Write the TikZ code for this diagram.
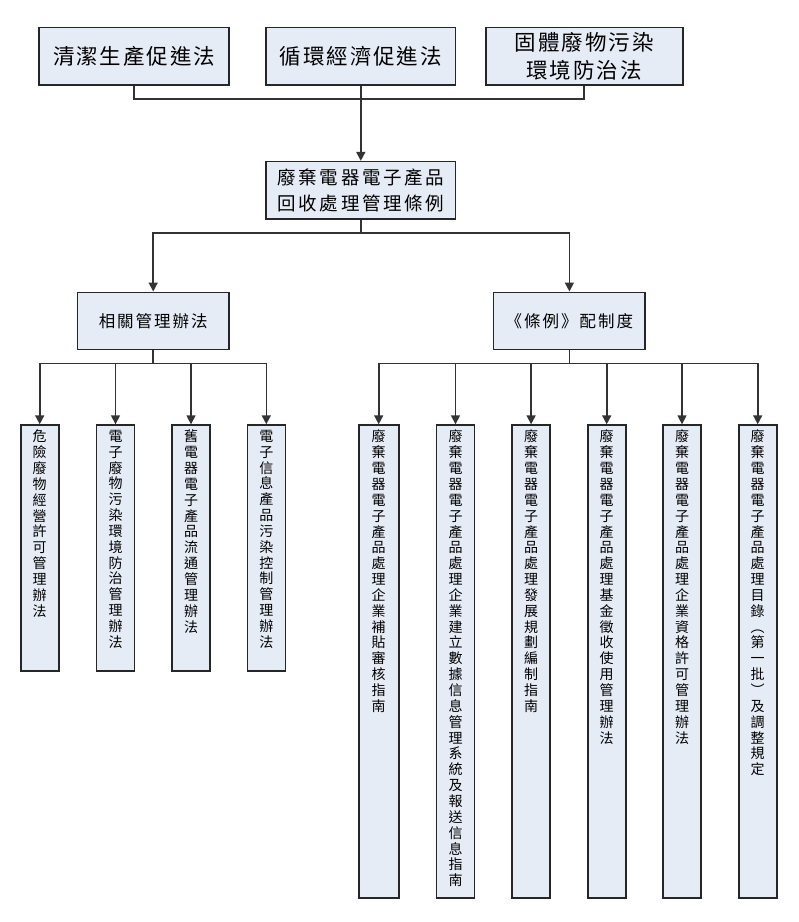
\documentclass[tikz,border=0pt]{standalone}
\usepackage{fontspec}
\usetikzlibrary{arrows.meta}
\setmainfont{Noto Sans CJK TC}
\definecolor{boxblue}{RGB}{230,236,246}

\makeatletter
\newcommand{\shuwen}[2]{\parbox[c][#1][t]{20pt}{\centering\fontsize{14pt}{15.85pt}\selectfont\vspace*{5pt}\@tfor\shuzi:=#2\do{\shuzi\par}}}
\makeatother

\tikzset{
    box/.style={draw=black!85, line width=1.6pt, fill=boxblue, inner sep=0pt, align=center},
    topbox/.style={box, minimum height=57.3pt, font=\fontsize{21.5pt}{28.4pt}\selectfont\addfontfeatures{LetterSpace=9}},
    regbox/.style={box, minimum height=57.3pt, font=\fontsize{18.5pt}{25.7pt}\selectfont\addfontfeatures{LetterSpace=14}},
    midbox/.style={box, minimum height=57pt, minimum width=151.5pt, font=\fontsize{16.5pt}{20pt}\selectfont\addfontfeatures{LetterSpace=12}},
    leaf/.style={box, anchor=north, minimum width=38pt},
    link/.style={draw=black!80, line width=1.6pt},
    arr/.style={link, -{Triangle[width=9pt,length=9pt]}}
}

\begin{document}
\begin{tikzpicture}[x=1pt, y=-1pt]
        \useasboundingbox (0,0) rectangle (799,922);

        \node[topbox, minimum width=189.7pt] (law1) at (134.1,56.3) {清潔生產促進法};
        \node[topbox, minimum width=189.7pt] (law2) at (360.8,56.3) {循環經濟促進法};
        \node[topbox, minimum width=197pt] (law3) at (584.2,56.3) {固體廢物污染\\環境防治法};

        \node[regbox, minimum width=189.7pt] (reg) at (360.8,190.3) {廢棄電器電子產品\\回收處理管理條例};

        \node[midbox] (rel) at (153.2,320.8) {相關管理辦法};
        \node[midbox] (sys) at (569.4,320.8) {《條例》配制度};

        \node[leaf] (r1) at (39.7,424.3) {\shuwen{246pt}{危險廢物經營許可管理辦法}};
        \node[leaf] (r2) at (115.5,424.3) {\shuwen{246pt}{電子廢物污染環境防治管理辦法}};
        \node[leaf] (r3) at (191,424.3) {\shuwen{246pt}{舊電器電子產品流通管理辦法}};
        \node[leaf] (r4) at (266.3,424.3) {\shuwen{246pt}{電子信息產品污染控制管理辦法}};

        \node[leaf, minimum width=40pt] (s1) at (378.7,424.3) {\shuwen{473pt}{廢棄電器電子產品處理企業補貼審核指南}};
        \node[leaf] (s2) at (455.5,424.3) {\shuwen{473pt}{廢棄電器電子產品處理企業建立數據信息管理系統及報送信息指南}};
        \node[leaf] (s3) at (531.1,424.3) {\shuwen{473pt}{廢棄電器電子產品處理發展規劃編制指南}};
        \node[leaf] (s4) at (606.7,424.3) {\shuwen{473pt}{廢棄電器電子產品處理基金徵收使用管理辦法}};
        \node[leaf] (s5) at (682,424.3) {\shuwen{473pt}{廢棄電器電子產品處理企業資格許可管理辦法}};
        \node[leaf] (s6) at (757.7,424.3) {\shuwen{473pt}{廢棄電器電子產品處理目錄︵第一批︶及調整規定}};

        \coordinate (j1) at (360.8,98.7);
        \coordinate (j2) at (360.8,233);
        \coordinate (j3) at (153.2,363.3);
        \coordinate (j4) at (569.4,363.3);

        \draw[link] (law1.south) |- (j1) -| (law3.south);
        \draw[arr] (law2.south) -- (reg.north);

        \draw[link] (reg.south) -- (j2);
        \draw[arr] (j2) -| (rel.north);
        \draw[arr] (j2) -| (sys.north);

        \draw[link] (rel.south) -- (j3);
        \foreach \n in {r1,r2,r3,r4}
            \draw[arr] (j3) -| (\n.north);

        \draw[link] (sys.south) -- (j4);
        \foreach \n in {s1,s2,s3,s4,s5,s6}
            \draw[arr] (j4) -| (\n.north);
\end{tikzpicture}
\end{document}
